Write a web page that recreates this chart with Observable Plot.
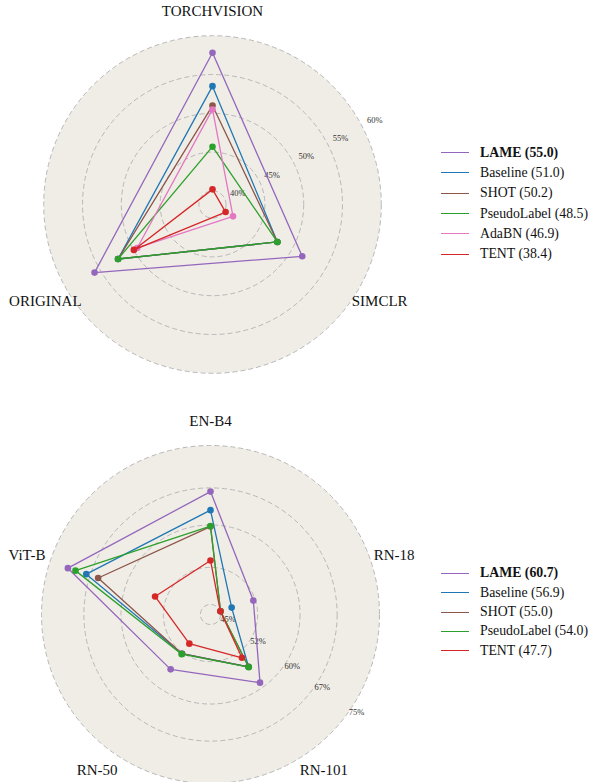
<!DOCTYPE html>
<html><head><meta charset="utf-8">
<script src="https://cdn.jsdelivr.net/npm/d3@7"></script>
<script src="https://cdn.jsdelivr.net/npm/@observablehq/plot@0.6"></script>
<style>
body{margin:0;background:#fff;}
#wrap{position:relative;width:593px;height:782px;font-family:"Liberation Serif","DejaVu Serif",serif;overflow:hidden;}
.chart{position:absolute;left:0;}
.legend{position:absolute;left:441px;font-size:13.8px;color:#111;}
.legend .item{display:flex;align-items:center;}
.legend .sw{width:28px;height:0;border-top:1.5px solid;margin-right:11px;}
</style></head>
<body><div id="wrap"></div>
<script>
// ---------- Top chart data ----------
const topAxes = ["TORCHVISION", "SIMCLR", "ORIGINAL"];
const topMethods = ["LAME", "Baseline", "SHOT", "PseudoLabel", "AdaBN", "TENT"];
const topMeans = ["55.0", "51.0", "50.2", "48.5", "46.9", "38.4"];
const topLAME = [57.8, 51.6, 55.8];
const topBaseline = [53.5, 47.9, 52.3];
const topSHOT = [51.0, 47.9, 52.3];
const topPseudoLabel = [45.7, 47.9, 52.3];
const topAdaBN = [50.5, 41.3, 49.45];
const topTENT = [40.2, 40.2, 49.95];
const topTicks = [40, 45, 50, 55, 60];
const topTickLabels = ["40%", "45%", "50%", "55%", "60%"];

// ---------- Bottom chart data ----------
const botAxes = ["EN-B4", "RN-18", "RN-101", "RN-50", "ViT-B"];
const botMethods = ["LAME", "Baseline", "SHOT", "PseudoLabel", "TENT"];
const botMeans = ["60.7", "56.9", "55.0", "54.0", "47.7"];
const botLAME = [66.3, 51.6, 59.0, 55.9, 71.4];
const botBaseline = [62.8, 47.3, 55.3, 52.25, 67.75];
const botSHOT = [59.7, 45.1, 55.3, 52.25, 65.4];
const botPseudoLabel = [59.8, 45.1, 55.4, 52.35, 69.9];
const botTENT = [53.3, 45.06, 53.2, 49.9, 54.1];
const botTicks = [45, 52, 60, 67, 75];
const botTickLabels = ["45%", "52%", "60%", "67%", "75%"];

const methodColors = {
  LAME: "#9467bd", Baseline: "#1f77b4", SHOT: "#8c564b",
  PseudoLabel: "#2ca02c", AdaBN: "#e377c2", TENT: "#d62728"
};

function radar(o) {
  const {axes, methods, series, ticks, tickLabels, rmin, rmax, R, cx, cy, W, H,
         tickAngle, tickDx, tickDy, labelPx} = o;
  const k = R / (rmax - rmin);
  const n = axes.length;
  const th = i => 2 * Math.PI * i / n;
  const pts = methods.flatMap((m, j) => axes.map((a, i) => ({method: m, axis: a, i, value: series[j][i]})));
  const px = d => (d.value - rmin) * Math.sin(th(d.i));
  const py = d => (d.value - rmin) * Math.cos(th(d.i));
  const ta = tickAngle * Math.PI / 180;
  const L = labelPx / k;
  const marks = [
    Plot.dot([rmax], {x: () => 0, y: () => 0, r: d => d - rmin, fill: "#f0ede6", stroke: "none"}),
    Plot.dot(ticks, {x: () => 0, y: () => 0, r: d => d - rmin, fill: "none", stroke: "#b8b8b8",
      strokeWidth: 1, strokeDasharray: "5,3"}),
    Plot.text(ticks, {x: d => (d - rmin) * Math.sin(ta), y: d => (d - rmin) * Math.cos(ta),
      text: (d, i) => tickLabels[i], textAnchor: "start", dx: tickDx, dy: tickDy,
      fontSize: 8.5, fill: "#333"}),
    Plot.text(axes, {x: (d, i) => L * Math.sin(th(i)), y: (d, i) => L * Math.cos(th(i)),
      text: d => d, fontSize: 15, fill: "#111"}),
  ];
  methods.forEach(m => {
    const sub = pts.filter(d => d.method === m);
    marks.push(Plot.line(sub, {x: px, y: py, stroke: "method", curve: "linear-closed", strokeWidth: 1.3}));
    marks.push(Plot.dot(sub, {x: px, y: py, fill: "method", r: 3.3, stroke: "none"}));
  });
  return Plot.plot({
    width: W, height: H,
    marginTop: 0, marginBottom: 0, marginLeft: 0, marginRight: 0,
    x: {type: "linear", domain: [-cx / k, (W - cx) / k], axis: null},
    y: {type: "linear", domain: [-(H - cy) / k, cy / k], axis: null},
    r: {type: "linear", domain: [0, rmax - rmin], range: [0, R]},
    color: {domain: Object.keys(methodColors), range: Object.values(methodColors)},
    style: {fontFamily: '"Liberation Serif","DejaVu Serif",serif', background: "transparent", overflow: "visible"},
    marks
  });
}

function legend(methods, means, top, step) {
  const div = document.createElement("div");
  div.className = "legend";
  div.style.top = top + "px";
  methods.forEach((m, i) => {
    const it = document.createElement("div");
    it.className = "item";
    it.style.height = step + "px";
    const sw = document.createElement("span");
    sw.className = "sw";
    sw.style.borderTopColor = methodColors[m];
    const t = document.createElement("span");
    t.textContent = `${m} (${means[i]})`;
    if (i === 0) t.style.fontWeight = "bold";
    it.appendChild(sw); it.appendChild(t);
    div.appendChild(it);
  });
  return div;
}

const wrap = document.getElementById("wrap");

const c1 = radar({
  axes: topAxes, methods: topMethods,
  series: [topLAME, topBaseline, topSHOT, topPseudoLabel, topAdaBN, topTENT],
  ticks: topTicks, tickLabels: topTickLabels,
  rmin: 38.25, rmax: 60, R: 168.8, cx: 212, cy: 204, W: 430, H: 391,
  tickAngle: 62, tickDx: 5.5, tickDy: -5, labelPx: 193
});
c1.classList.add("chart"); c1.style.top = "0px";
wrap.appendChild(c1);
wrap.appendChild(legend(topMethods, topMeans, 142.5, 20.3));

const c2 = radar({
  axes: botAxes, methods: botMethods,
  series: [botLAME, botBaseline, botSHOT, botPseudoLabel, botTENT],
  ticks: botTicks, tickLabels: botTickLabels,
  rmin: 43.1, rmax: 75, R: 169, cx: 210, cy: 223, W: 430, H: 391,
  tickAngle: 126, tickDx: 1.5, tickDy: -1.2, labelPx: 193
});
c2.classList.add("chart"); c2.style.top = "391px";
wrap.appendChild(c2);
wrap.appendChild(legend(botMethods, botMeans, 563.6, 19.4));
</script>
</body></html>
